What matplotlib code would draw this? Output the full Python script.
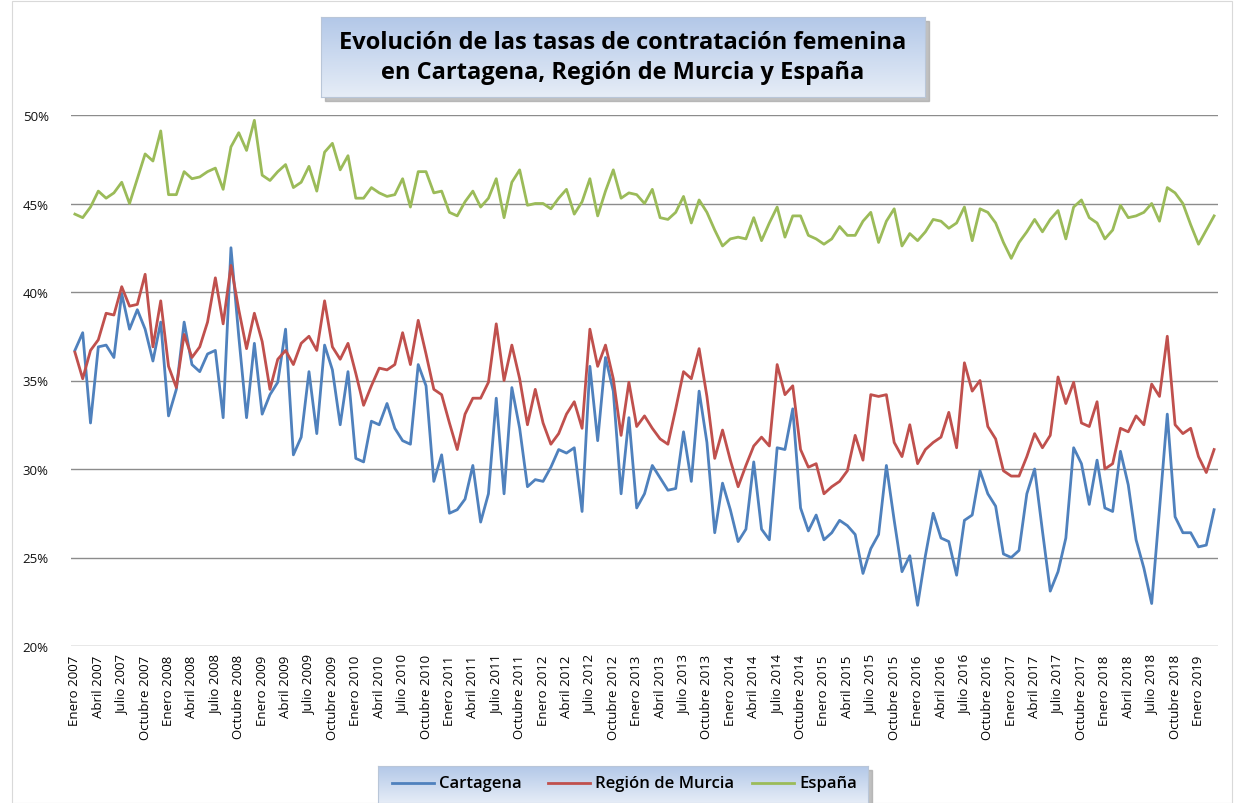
import numpy as np
import matplotlib
matplotlib.use("Agg")
import matplotlib.pyplot as plt
from matplotlib.patches import Rectangle
from matplotlib.lines import Line2D

# Datos mensuales: enero 2007 - marzo 2019 (tasas en %)
meses = ["Enero", "Febrero", "Marzo", "Abril", "Mayo", "Junio", "Julio",
         "Agosto", "Septiembre", "Octubre", "Noviembre", "Diciembre"]

cartagena = [36.7, 37.7, 32.6, 36.9, 37.0, 36.3, 39.9, 37.9, 39.0, 37.9,
             36.1, 38.3, 33.0, 34.5, 38.3, 35.9, 35.5, 36.5, 36.7, 32.9,
             42.5, 37.5, 32.9, 37.1, 33.1, 34.2, 34.9, 37.9, 30.8, 31.8,
             35.5, 32.0, 37.0, 35.6, 32.5, 35.5, 30.6, 30.4, 32.7, 32.5,
             33.7, 32.3, 31.6, 31.4, 35.9, 34.7, 29.3, 30.8, 27.5, 27.7,
             28.3, 30.2, 27.0, 28.6, 34.0, 28.6, 34.6, 32.3, 29.0, 29.4,
             29.3, 30.1, 31.1, 30.9, 31.2, 27.6, 35.8, 31.6, 36.3, 34.4,
             28.6, 32.9, 27.8, 28.6, 30.2, 29.5, 28.8, 28.9, 32.1, 29.3,
             34.4, 31.5, 26.4, 29.2, 27.7, 25.9, 26.6, 30.4, 26.6, 26.0,
             31.2, 31.1, 33.4, 27.8, 26.5, 27.4, 26.0, 26.4, 27.1, 26.8,
             26.3, 24.1, 25.5, 26.3, 30.2, 27.1, 24.2, 25.1, 22.3, 25.1,
             27.5, 26.1, 25.9, 24.0, 27.1, 27.4, 29.9, 28.6, 27.9, 25.2,
             25.0, 25.4, 28.6, 30.0, 26.5, 23.1, 24.2, 26.1, 31.2, 30.3,
             28.0, 30.5, 27.8, 27.6, 31.0, 29.1, 26.0, 24.4, 22.4, 27.7,
             33.1, 27.3, 26.4, 26.4, 25.6, 25.7, 27.7]

murcia = [36.6, 35.1, 36.7, 37.3, 38.8, 38.7, 40.3, 39.2, 39.3, 41.0,
          36.9, 39.5, 35.8, 34.6, 37.6, 36.3, 36.9, 38.3, 40.8, 38.2,
          41.5, 39.0, 36.8, 38.8, 37.2, 34.5, 36.2, 36.7, 35.9, 37.1,
          37.5, 36.7, 39.5, 36.9, 36.2, 37.1, 35.4, 33.6, 34.7, 35.7,
          35.6, 35.9, 37.7, 35.9, 38.4, 36.5, 34.5, 34.2, 32.6, 31.1,
          33.1, 34.0, 34.0, 34.9, 38.2, 35.0, 37.0, 35.1, 32.5, 34.5,
          32.6, 31.4, 32.0, 33.1, 33.8, 32.3, 37.9, 35.8, 37.0, 35.1,
          31.9, 34.9, 32.4, 33.0, 32.3, 31.7, 31.4, 33.4, 35.5, 35.1,
          36.8, 34.1, 30.6, 32.2, 30.5, 29.0, 30.2, 31.3, 31.8, 31.3,
          35.9, 34.2, 34.7, 31.1, 30.1, 30.3, 28.6, 29.0, 29.3, 29.9,
          31.9, 30.5, 34.2, 34.1, 34.2, 31.5, 30.7, 32.5, 30.3, 31.1,
          31.5, 31.8, 33.2, 31.2, 36.0, 34.4, 35.0, 32.4, 31.7, 29.9,
          29.6, 29.6, 30.7, 32.0, 31.2, 31.9, 35.2, 33.7, 34.9, 32.6,
          32.4, 33.8, 30.0, 30.3, 32.3, 32.1, 33.0, 32.5, 34.8, 34.1,
          37.5, 32.5, 32.0, 32.3, 30.7, 29.8, 31.1]

espana = [44.4, 44.2, 44.8, 45.7, 45.3, 45.6, 46.2, 45.0, 46.4, 47.8,
          47.4, 49.1, 45.5, 45.5, 46.8, 46.4, 46.5, 46.8, 47.0, 45.8,
          48.2, 49.0, 48.0, 49.7, 46.6, 46.3, 46.8, 47.2, 45.9, 46.2,
          47.1, 45.7, 47.9, 48.4, 46.9, 47.7, 45.3, 45.3, 45.9, 45.6,
          45.4, 45.5, 46.4, 44.8, 46.8, 46.8, 45.6, 45.7, 44.5, 44.3,
          45.1, 45.7, 44.8, 45.3, 46.4, 44.2, 46.2, 46.9, 44.9, 45.0,
          45.0, 44.7, 45.3, 45.8, 44.4, 45.1, 46.4, 44.3, 45.7, 46.9,
          45.3, 45.6, 45.5, 45.0, 45.8, 44.2, 44.1, 44.5, 45.4, 43.9,
          45.2, 44.5, 43.5, 42.6, 43.0, 43.1, 43.0, 44.2, 42.9, 43.9,
          44.8, 43.1, 44.3, 44.3, 43.2, 43.0, 42.7, 43.0, 43.7, 43.2,
          43.2, 44.0, 44.5, 42.8, 44.0, 44.7, 42.6, 43.3, 42.9, 43.4,
          44.1, 44.0, 43.6, 43.9, 44.8, 42.9, 44.7, 44.5, 43.9, 42.8,
          41.9, 42.8, 43.4, 44.1, 43.4, 44.1, 44.6, 43.0, 44.8, 45.2,
          44.2, 43.9, 43.0, 43.5, 44.9, 44.2, 44.3, 44.5, 45.0, 44.0,
          45.9, 45.6, 45.0, 43.8, 42.7, 43.5, 44.3]

n = len(espana)
categorias = [f"{meses[k % 12]} {2007 + k // 12}" for k in range(n)]
x = np.arange(n)

azul = "#4F81BD"
rojo = "#C0504D"
verde = "#9BBB59"

plt.rcParams["font.family"] = ["Open Sans", "DejaVu Sans"]

fig = plt.figure(figsize=(12.34, 8.04), dpi=100)
fig.patch.set_facecolor("white")

ax = fig.add_axes([71 / 1234, 1 - 647 / 804, (1218 - 71) / 1234, (647 - 116) / 804])
ax.plot(x, cartagena, color=azul, lw=2.0)
ax.plot(x, murcia, color=rojo, lw=2.0)
ax.plot(x, espana, color=verde, lw=2.0)

ax.set_xlim(-0.5, n - 0.5)
ax.set_ylim(20, 50)
yt = [20, 25, 30, 35, 40, 45, 50]
ax.set_yticks(yt)
ax.set_yticklabels([f"{v}%" for v in yt], fontsize=9.5, color="#111111")
ax.set_xticks(x[::3])
ax.set_xticklabels(categorias[::3], rotation=90, fontsize=9.5, color="#000000")
ax.tick_params(axis="y", length=0, pad=16)
ax.tick_params(axis="x", length=0, pad=6)
ax.grid(axis="y", color="#8c8c8c", lw=1.0)
ax.set_axisbelow(True)
for s in ax.spines.values():
    s.set_visible(False)

# borde del area del grafico
fig.patches.append(Rectangle((12 / 1234, 0.0), 1 - 14 / 1234, 1 - 2 / 804,
                             transform=fig.transFigure, fill=False,
                             edgecolor="#d9d9d9", lw=0.8, zorder=0))


def caja_degradado(rect, c_arriba, c_abajo):
    x0, y0, w, h = rect
    # sombra
    fig.patches.append(Rectangle((x0 + 4 / 1234, y0 - 4 / 804), w, h,
                                 transform=fig.transFigure, color="#a6a6a6",
                                 alpha=0.7, zorder=1))
    a = fig.add_axes(rect)
    a.set_zorder(3)
    g = np.linspace(0, 1, 100).reshape(-1, 1)
    c1 = np.array(matplotlib.colors.to_rgb(c_arriba))
    c2 = np.array(matplotlib.colors.to_rgb(c_abajo))
    img = c1 + (c2 - c1) * g[:, :, None]
    a.imshow(img, aspect="auto", extent=[0, 1, 0, 1], origin="upper")
    a.set_xlim(0, 1)
    a.set_ylim(0, 1)
    a.set_xticks([])
    a.set_yticks([])
    for s in a.spines.values():
        s.set_edgecolor("#b9c6d8")
        s.set_linewidth(0.8)
    return a


# titulo
at = caja_degradado([321 / 1234, 1 - 98 / 804, 604 / 1234, 80 / 804], "#b3c8e8", "#e6edf7")
at.text(0.5, 0.5, "Evolución de las tasas de contratación femenina\nen Cartagena, Región de Murcia y España",
        ha="center", va="center", fontsize=17, fontweight="bold", color="#000000",
        linespacing=1.3)

# leyenda
al = caja_degradado([378 / 1234, 0.0, 490 / 1234, 37 / 804], "#b3c8e8", "#e6edf7")
entradas = [("Cartagena", azul, 14), ("Región de Murcia", rojo, 170), ("España", verde, 374)]
for nombre, col, px in entradas:
    al.add_line(Line2D([px / 490, (px + 42) / 490], [0.55, 0.55], color=col, lw=2.0))
    al.text((px + 47) / 490, 0.55, nombre, ha="left", va="center", fontsize=12,
            fontweight="semibold", color="#000000")

fig.savefig("out.png", dpi=100)
